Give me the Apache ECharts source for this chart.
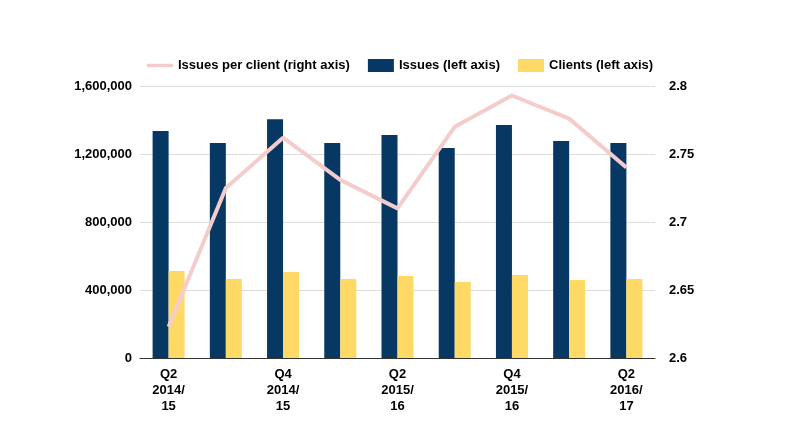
<!DOCTYPE html>
<html lang="en">
<head>
<meta charset="UTF-8">
<script src="https://cdn.jsdelivr.net/npm/echarts@6/dist/echarts.min.js"></script>
<style>
  html, body { margin: 0; padding: 0; background: #fff; }
  #main { width: 800px; height: 443px; }
</style>
</head>
<body>
<div id="main"></div>
<script>
var quarters = ['Q2\n2014/\n15', '', 'Q4\n2014/\n15', '', 'Q2\n2015/\n16', '', 'Q4\n2015/\n16', '', 'Q2\n2016/\n17'];
var issues = [1335000, 1265000, 1405000, 1265000, 1312000, 1235000, 1371000, 1276000, 1265000];
var clients = [512000, 465000, 506000, 465000, 482000, 447000, 488000, 459000, 465000];
var perClient = [2.623, 2.725, 2.762, 2.731, 2.710, 2.770, 2.793, 2.776, 2.740];

var lbl = { color: '#000', fontWeight: 'bold', fontSize: 13, fontFamily: 'Liberation Sans, Arial' };
var chart = echarts.init(document.getElementById('main'));
chart.setOption({
  animation: false,
  legend: {
    top: 54, left: 'center', itemGap: 18,
    textStyle: lbl,
    data: [
      { name: 'Issues per client (right axis)', icon: 'path://M0,5L30,5L30,9L0,9Z', itemStyle: { color: '#f4cccc' } },
      { name: 'Issues (left axis)', icon: 'rect' },
      { name: 'Clients (left axis)', icon: 'rect' }
    ],
    itemWidth: 26, itemHeight: 13
  },
  grid: { left: 140, right: 145, top: 86, bottom: 85 },
  xAxis: {
    type: 'category', data: quarters,
    axisTick: { show: false },
    axisLine: { lineStyle: { color: '#333' } },
    axisLabel: Object.assign({ interval: 0, margin: 8, lineHeight: 16 }, lbl)
  },
  yAxis: [{
    type: 'value', min: 0, max: 1600000, interval: 400000,
    axisLabel: Object.assign({
      formatter: function (v) { return v.toLocaleString('en-US'); }
    }, lbl),
    splitLine: { lineStyle: { color: '#ddd' } }
  }, {
    type: 'value', min: 2.6, max: 2.8, interval: 0.05,
    axisLabel: Object.assign({
      margin: 14,
      formatter: function (v) { return parseFloat(v.toFixed(2)).toString(); }
    }, lbl),
    splitLine: { show: false }
  }],
  series: [{
    name: 'Issues (left axis)', type: 'bar', data: issues,
    barWidth: 16, barGap: '0%', itemStyle: { color: '#073763' }
  }, {
    name: 'Clients (left axis)', type: 'bar', data: clients,
    barWidth: 16, itemStyle: { color: '#ffd966' }
  }, {
    name: 'Issues per client (right axis)', type: 'line', yAxisIndex: 1, data: perClient,
    symbol: 'none', lineStyle: { color: '#f4cccc', width: 4 }, itemStyle: { color: '#f4cccc' }
  }]
});
</script>
</body>
</html>
